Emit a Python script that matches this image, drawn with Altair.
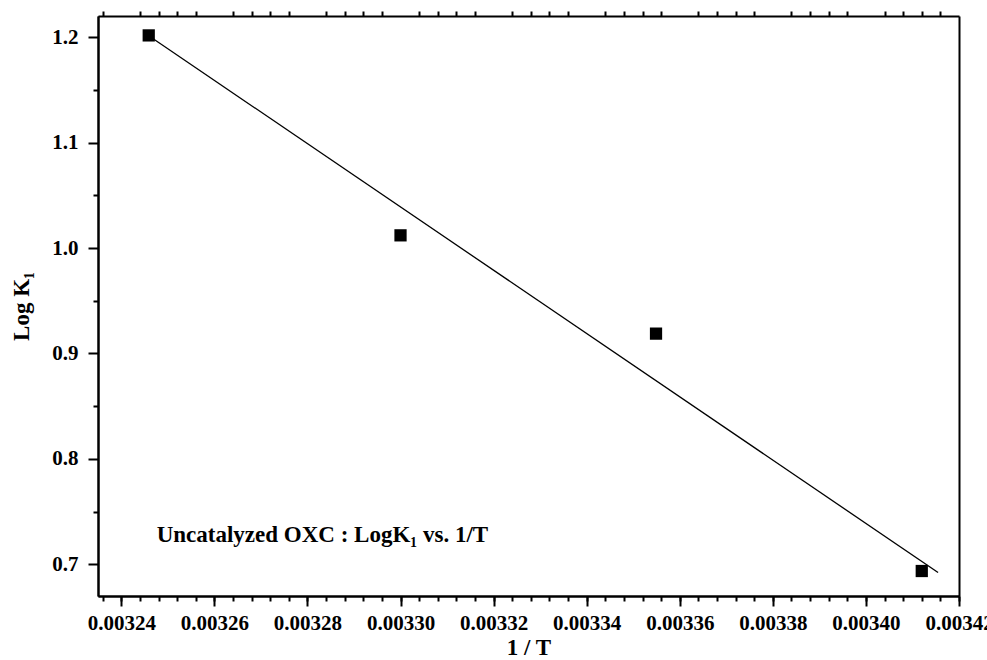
import altair as alt
import pandas as pd

# ---- data ----
inv_T = [0.0032459, 0.0033000, 0.0033549, 0.0034120]
log_k1 = [1.2016, 1.0120, 0.9188, 0.6937]

fit_inv_T = [0.0032459, 0.0034155]
fit_log_k1 = [1.2013, 0.6923]

x_major = [0.00324, 0.00326, 0.00328, 0.00330, 0.00332, 0.00334,
           0.00336, 0.00338, 0.00340, 0.00342]
y_major = [0.7, 0.8, 0.9, 1.0, 1.1, 1.2]
y_minor = [0.75, 0.85, 0.95, 1.05, 1.15]

x_title = "1 / T"
y_title = "Log K\u2081"
annotation = "Uncatalyzed OXC : LogK\u2081 vs. 1/T"

# minor tick positions (every 0.000004)
x_minor = [round(0.003236 + 0.000004 * i, 6) for i in range(47)]
x_minor_top = [v for v in x_minor if round(v * 1e6) % 20 != 0]

pts = pd.DataFrame({"x": inv_T, "y": log_k1})
fit = pd.DataFrame({"x": fit_inv_T, "y": fit_log_k1})

FONT = "Liberation Serif"
xs = alt.Scale(domain=[0.003235, 0.00342], nice=False, zero=False)
ys = alt.Scale(domain=[0.67, 1.22], nice=False, zero=False)

common = dict(grid=False, domainColor="black", domainWidth=2, tickColor="black",
              tickWidth=2, labelFont=FONT, labelFontWeight="bold", labelFontSize=21,
              labelColor="black", titleFont=FONT, titleFontWeight="bold",
              titleFontSize=23, titleColor="black", labelOverlap=False,
              labelFlush=False)

ax_bottom_major = alt.Axis(orient="bottom", values=x_major, format=".5f", tickSize=10,
                           labelPadding=6, title=x_title, titlePadding=3, **common)
ax_bottom_minor = alt.Axis(orient="bottom", values=x_minor, tickSize=5, labels=False,
                           title=None, **common)
ax_top = alt.Axis(orient="top", values=x_minor_top, tickSize=5, labels=False,
                  title=None, **common)
ax_left_major = alt.Axis(orient="left", values=y_major, format=".1f", tickSize=10,
                         labelPadding=10, title=y_title, titlePadding=18, **common)
ax_left_minor = alt.Axis(orient="left", values=y_minor, tickSize=5, labels=False,
                         title=None, **common)
ax_right = alt.Axis(orient="right", ticks=False, labels=False, title=None, **common)

line_layer = alt.Chart(fit).mark_line(color="black", strokeWidth=1.3).encode(
    x=alt.X("x:Q", scale=xs, axis=ax_bottom_minor),
    y=alt.Y("y:Q", scale=ys, axis=ax_left_minor),
)
point_layer = alt.Chart(pts).mark_square(size=150, color="black", opacity=1).encode(
    x=alt.X("x:Q", scale=xs, axis=ax_bottom_major),
    y=alt.Y("y:Q", scale=ys, axis=ax_left_major),
)
frame_layer = alt.Chart(pts).mark_point(opacity=0).encode(
    x=alt.X("x:Q", scale=xs, axis=ax_top),
    y=alt.Y("y:Q", scale=ys, axis=ax_right),
)
text_layer = alt.Chart(pd.DataFrame({"t": [annotation]})).mark_text(
    font=FONT, fontWeight="bold", fontSize=23, color="black",
    align="left", baseline="alphabetic",
).encode(x=alt.value(58.7), y=alt.value(526), text="t:N")

chart = (
    alt.layer(line_layer, point_layer, frame_layer, text_layer)
    .resolve_axis(x="independent", y="independent")
    .properties(width=861, height=580, autosize=alt.AutoSizeParams(type="none"),
                padding={"left": 98, "top": 16, "right": 28, "bottom": 64},
                background="white")
    .configure_view(stroke=None)
)

chart.save("out.html", embed_options={"renderer": "svg", "actions": False})
